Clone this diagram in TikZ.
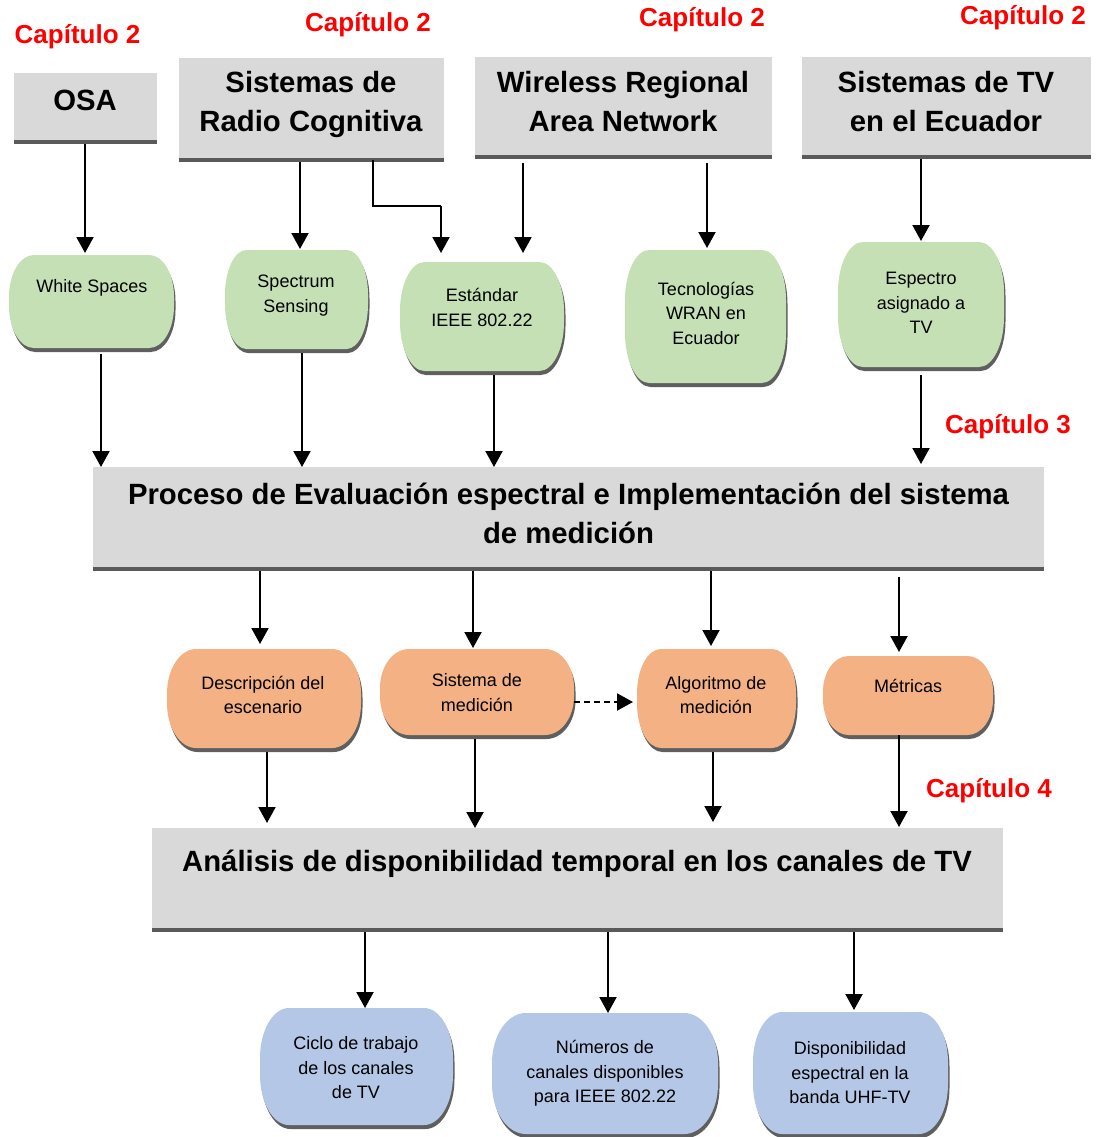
\documentclass[tikz,border=0pt]{standalone}
\usepackage{fontspec}
\setmainfont{Liberation Sans}
\usetikzlibrary{arrows.meta}
\definecolor{boxgray}{HTML}{D9D9D9}
\definecolor{edgegray}{HTML}{5A5A5A}
\definecolor{shadowgray}{HTML}{5F5F5F}
\definecolor{greenf}{HTML}{C5E0B4}
\definecolor{orangef}{HTML}{F4B183}
\definecolor{bluef}{HTML}{B4C7E7}
\definecolor{capred}{HTML}{FF0000}
\tikzset{
  anchorbox/.style={rectangle, draw=none, fill=none, inner sep=0pt, outer sep=0pt},
  titletxt/.style={font=\fontsize{29.3}{39}\selectfont\bfseries, align=center, inner sep=0pt},
  smalltxt/.style={font=\fontsize{18}{24.5}\selectfont, align=center, inner sep=0pt},
  captxt/.style={font=\fontsize{26}{30}\selectfont\bfseries, text=capred, inner sep=0pt},
  arr/.style={line width=2pt, -{Triangle[width=17pt,length=16pt]}},
  darr/.style={line width=2pt, dash pattern=on 6pt off 4pt, -{Triangle[width=17pt,length=16pt]}},
  thinline/.style={line width=1.2pt}
}
\newcommand{\mkgray}[5]{%
  \fill[boxgray] (#2,#3) rectangle (#4,#5-4);
  \fill[edgegray] (#2,#5-4) rectangle (#4,#5);
  \node[anchorbox, minimum width={#4-#2}, minimum height={#5-#3}] (#1) at ({(#2+#4)/2},{(#3+#5)/2}) {};
}
\newcommand{\blobfill}[2]{%
  \fill[#2, shift={#1}] (\bxaa,\bya) -- (\bxbb,\bya)
    .. controls (\bxbb+\bcx,\bya) and (\bxb,\byaa-\bcy) .. (\bxb,\byaa)
    -- (\bxb,\bybb)
    .. controls (\bxb,\bybb+\bcy) and (\bxbb+\bcx,\byb) .. (\bxbb,\byb)
    -- (\bxaa,\byb)
    .. controls (\bxaa-\bcx,\byb) and (\bxa,\bybb+\bcy) .. (\bxa,\bybb)
    -- (\bxa,\byaa)
    .. controls (\bxa,\byaa-\bcy) and (\bxaa-\bcx,\bya) .. (\bxaa,\bya) -- cycle;
}
\newcommand{\mkblob}[6]{%
  \pgfmathsetmacro\bxa{#2}\pgfmathsetmacro\bya{#3}%
  \pgfmathsetmacro\bxb{#4}\pgfmathsetmacro\byb{#5}%
  \pgfmathsetmacro\brx{0.15*(#4-#2)}%
  \pgfmathsetmacro\bry{min(0.45*(#5-#3),50)}%
  \pgfmathsetmacro\bxaa{\bxa+\brx}\pgfmathsetmacro\bxbb{\bxb-\brx}%
  \pgfmathsetmacro\byaa{\bya+\bry}\pgfmathsetmacro\bybb{\byb-\bry}%
  \pgfmathsetmacro\bcx{0.552*\brx}\pgfmathsetmacro\bcy{0.552*\bry}%
  \blobfill{(1.5,4)}{shadowgray}%
  \blobfill{(0,0)}{#6}%
  \node[anchorbox, minimum width={\bxb-\bxa}, minimum height={\byb-\bya}] (#1) at ({(\bxa+\bxb)/2},{(\bya+\byb)/2}) {};
}
\begin{document}
\begin{tikzpicture}[x=1pt, y=-1pt]
\useasboundingbox (0,0) rectangle (1099,1137);

% top gray boxes
\mkgray{osa}{14}{73}{157}{144}
\mkgray{src}{179}{58}{444}{162}
\mkgray{wran}{475}{57}{772}{159}
\mkgray{tv}{802}{57}{1091}{159}
% main gray boxes
\mkgray{proc}{93}{467}{1044}{571}
\mkgray{anal}{152}{828}{1003}{932}

% blobs
\mkblob{ws}{9}{255}{174}{348}{greenf}
\mkblob{ss}{225}{250}{368}{349}{greenf}
\mkblob{est}{400}{262}{564}{371}{greenf}
\mkblob{tec}{625}{250}{786}{383}{greenf}
\mkblob{esp}{838}{242}{1004}{367}{greenf}
\mkblob{desc}{167}{649}{361}{748}{orangef}
\mkblob{sist}{380}{649}{574}{735}{orangef}
\mkblob{alg}{637}{649}{796}{748}{orangef}
\mkblob{met}{823}{656}{993}{735}{orangef}
\mkblob{ciclo}{260}{1008}{453}{1125}{bluef}
\mkblob{num}{492}{1013}{718}{1134}{bluef}
\mkblob{disp}{753}{1012}{948}{1134}{bluef}

% texts
\node[titletxt] (osat) at (85,100) {OSA};
\node[titletxt] (srct) at (311,104.5) {Sistemas de\\Radio Cognitiva};
\node[titletxt] (wrant) at (623,102) {Wireless Regional\\Area Network};
\node[titletxt] (tvt) at (946,102) {Sistemas de TV\\en el Ecuador};
\node[titletxt] (proct) at (568.5,513.5) {Proceso de Evaluación espectral e Implementación del sistema\\de medición};
\node[titletxt] (analt) at (577,864) {Análisis de disponibilidad temporal en los canales de TV};

\node[captxt] (cap1) at (77.5,37) {Capítulo 2};
\node[captxt] (cap2) at (368,25) {Capítulo 2};
\node[captxt] (cap3) at (702,20) {Capítulo 2};
\node[captxt] (cap4) at (1023,18) {Capítulo 2};
\node[captxt] (cap5) at (1008,427) {Capítulo 3};
\node[captxt] (cap6) at (989,791) {Capítulo 4};

\node[smalltxt] (wst) at (92,288) {White Spaces};
\node[smalltxt] (sst) at (296,295.5) {Spectrum\\Sensing};
\node[smalltxt] (estt) at (482,307.5) {Estándar\\IEEE 802.22};
\node[smalltxt] (tect) at (706,313) {Tecnologías\\WRAN en\\Ecuador};
\node[smalltxt] (espt) at (921,303) {Espectro\\asignado a\\TV};
\node[smalltxt] (desct) at (263,695) {Descripción del\\escenario};
\node[smalltxt] (sistt) at (477,692.5) {Sistema de\\medición};
\node[smalltxt] (algt) at (716,695) {Algoritmo de\\medición};
\node[smalltxt] (mett) at (908,686) {Métricas};
\node[smalltxt] (ciclot) at (356,1068) {Ciclo de trabajo\\de los canales\\de TV};
\node[smalltxt] (numt) at (605,1073.5) {Números de\\canales disponibles\\para IEEE 802.22};
\node[smalltxt] (dispt) at (850,1073) {Disponibilidad\\espectral en la\\banda UHF-TV};

% connectors: top row
\draw[arr] ([xshift=-0.5pt]osa.south) -- ([xshift=-6.5pt,yshift=2pt]ws.north);
\draw[arr] ([xshift=-11.5pt]src.south) -- ([xshift=3.5pt,yshift=1pt]ss.north);
\coordinate (elb) at (441,206);
\draw[thinline] ([xshift=61.5pt,yshift=2pt]src.south) |- (elb);
\draw[arr] (elb) -- ([xshift=-41pt,yshift=9pt]est.north);
\draw[arr] ([xshift=-100.5pt,yshift=-4pt]wran.south) -- ([xshift=41pt,yshift=9pt]est.north);
\draw[arr] ([xshift=83.5pt,yshift=-4pt]wran.south) -- ([xshift=1.5pt,yshift=2pt]tec.north);
\draw[arr] ([xshift=-25.5pt]tv.south) -- ([yshift=1pt]esp.north);
% green to process
\draw[arr] ([xshift=9.5pt,yshift=-6pt]ws.south) -- ([xshift=-467.5pt]proc.north);
\draw[arr] ([xshift=5.5pt,yshift=-4pt]ss.south) -- ([xshift=-266.5pt]proc.north);
\draw[arr] ([xshift=12pt,yshift=-4pt]est.south) -- ([xshift=-74.5pt]proc.north);
\draw[arr] ([yshift=-8pt]esp.south) -- ([xshift=352.5pt,yshift=3pt]proc.north);
% process to orange
\draw[arr] ([xshift=-308.5pt]proc.south) -- ([xshift=-4pt,yshift=5pt]desc.north);
\draw[arr] ([xshift=-95.5pt]proc.south) -- ([xshift=-4pt,yshift=1pt]sist.north);
\draw[arr] ([xshift=142.5pt]proc.south) -- ([xshift=-5.5pt,yshift=3pt]alg.north);
\draw[arr] ([xshift=330.5pt,yshift=-6pt]proc.south) -- ([xshift=-9pt,yshift=4pt]met.north);
\draw[darr] ([yshift=-10pt]sist.east) -- ([xshift=-4pt,yshift=-3.5pt]alg.west);
% orange to analysis
\draw[arr] ([xshift=3pt,yshift=-4pt]desc.south) -- ([xshift=-310.5pt,yshift=5pt]anal.north);
\draw[arr] ([xshift=-2pt,yshift=-4pt]sist.south) -- ([xshift=-102.5pt]anal.north);
\draw[arr] ([xshift=-3.5pt,yshift=-4pt]alg.south) -- ([xshift=135.5pt,yshift=6pt]anal.north);
\draw[arr] ([xshift=-9pt]met.south) -- ([xshift=321.5pt,yshift=1pt]anal.north);
% analysis to blue
\draw[arr] ([xshift=-212.5pt]anal.south) -- ([xshift=8.5pt]ciclo.north);
\draw[arr] ([xshift=30.5pt]anal.south) -- ([xshift=3pt]num.north);
\draw[arr] ([xshift=276.5pt]anal.south) -- ([xshift=3.5pt,yshift=2pt]disp.north);
\end{tikzpicture}
\end{document}
